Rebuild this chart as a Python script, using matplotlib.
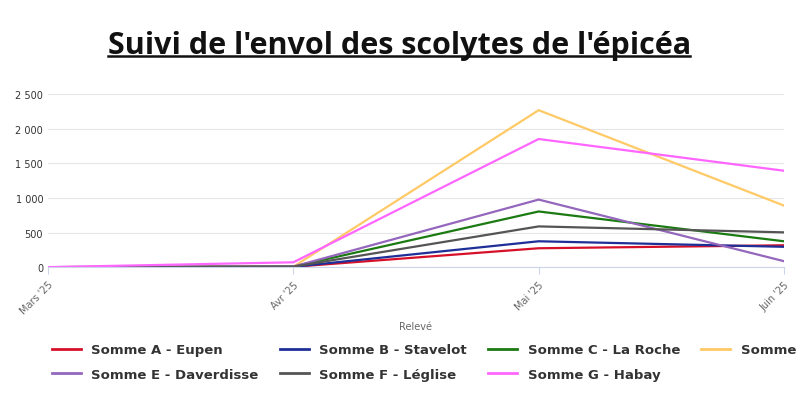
import matplotlib.pyplot as plt
import numpy as np

mois = ["Mars '25", "Avr '25", "Mai '25", "Juin '25"]
noms = ["Somme A - Eupen", "Somme B - Stavelot", "Somme C - La Roche", "Somme D - Tenneville",
        "Somme E - Daverdisse", "Somme F - Léglise", "Somme G - Habay"]
couleurs = ["#d7102a", "#1f2f98", "#1c7a12", "#ffc966", "#9467bd", "#555555", "#ff66ff"]
somme_a = [0, 5, 273, 316]
somme_b = [0, 5, 374, 294]
somme_c = [0, 8, 805, 374]
somme_d = [0, 6, 2270, 890]
somme_e = [0, 8, 977, 86]
somme_f = [0, 8, 589, 503]
somme_g = [0, 70, 1853, 1394]
series = [somme_a, somme_b, somme_c, somme_d, somme_e, somme_f, somme_g]

fig = plt.figure(figsize=(8, 4.02), dpi=100)
ax = fig.add_axes([0.06, 0.333, 0.92, 0.43])
x = np.arange(len(mois))
lignes = []
for vals, nom, c in zip(series, noms, couleurs):
    lignes += ax.plot(x, vals, color=c, lw=1.6, label=nom)

ax.set_xlim(0, 3)
ax.set_ylim(0, 2500)
ax.set_yticks(range(0, 2501, 500))
ax.set_yticklabels(["0", "500", "1 000", "1 500", "2 000", "2 500"], fontsize=7, color="#333333")
ax.set_xticks(x)
ax.set_xticklabels(mois, rotation=45, ha="right", rotation_mode="anchor", fontsize=7, color="#666666")
ax.grid(axis="y", color="#e6e6e6", lw=0.8)
ax.set_axisbelow(True)
for s in ["top", "right", "left"]:
    ax.spines[s].set_visible(False)
ax.spines["bottom"].set_color("#ccd6eb")
ax.tick_params(axis="y", length=0)
ax.tick_params(axis="x", color="#ccd6eb", length=5)
ax.set_xlabel("Relevé", fontsize=7, color="#666666", labelpad=4)

fig.text(0.5, 0.865, "Suivi de l'envol des scolytes de l'épicéa", ha="center", fontsize=22,
         fontweight="bold", color="#111111", family="Open Sans")
fig.add_artist(plt.Line2D([0.135, 0.862], [0.858, 0.858], color="#111111", lw=1.8))

# legend filled row by row: reorder for matplotlib's column-major fill
ordre = [0, 4, 1, 5, 2, 6, 3]
leg = fig.legend([lignes[i] for i in ordre], [noms[i] for i in ordre],
                 loc="lower left", bbox_to_anchor=(0.05, 0.02), ncol=4, frameon=False,
                 handlelength=2.2, columnspacing=1.6, labelspacing=0.9,
                 prop={"weight": "semibold", "size": 9.5})
for t in leg.get_texts():
    t.set_color("#333333")
for l in leg.get_lines():
    l.set_linewidth(2)

fig.savefig("out.png", dpi=100)
